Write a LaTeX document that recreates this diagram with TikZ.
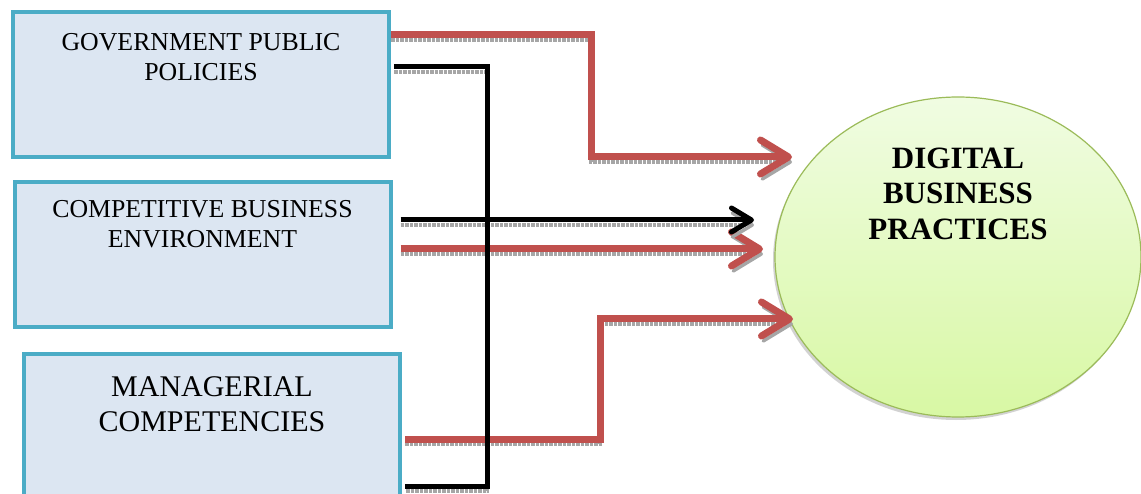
\documentclass[tikz,border=0pt]{standalone}
\usepackage{fontspec}
\setmainfont{Liberation Serif}
\usetikzlibrary{arrows.meta,shapes.geometric,positioning,shadows}
\definecolor{boxblue}{HTML}{4BACC6}
\definecolor{boxfill}{HTML}{DCE6F2}
\definecolor{linkred}{HTML}{C0504D}
\definecolor{ovalgreen}{HTML}{9BBB59}
\definecolor{ovaltop}{HTML}{F0FCE2}
\definecolor{ovalbottom}{HTML}{D8F8A4}

\begin{document}
\begin{tikzpicture}[
    x = 1pt, y = -1pt,
    factor/.style = {
      draw = boxblue,
      fill = boxfill,
      line width = 4pt,
      minimum width = 376pt,
      minimum height = 145pt,
      inner sep = 0pt
    },
    factortext/.style = {
      align = center,
      inner sep = 0pt,
      font = \fontsize{25.8}{30}\selectfont
    },
    lineshadow/.style = {
      preaction = {draw = gray!70, densely dotted, line width = 3.5pt,
        transform canvas = {yshift = -5pt}}
    },
    redlink/.style = {
      lineshadow,
      draw = linkred,
      line width = 7pt,
      -{Straight Barb[length = 28pt, width = 34pt, round]}
    },
    blacklink/.style = {
      lineshadow,
      draw = black,
      line width = 5pt
    }
  ]

  \useasboundingbox (0,0) rectangle (1141,494);
  \clip (0,0) rectangle (1141,494);

  % factors
  \node[factor] (gov) at (201,84.5) {};
  \node[factor] (comp) at (202.5,255) {};
  \node[factor] (mgr) at (212,426.5) {};

  \node[factortext, below = 23pt of gov.north] (govtext) {GOVERNMENT PUBLIC\\POLICIES};
  \node[factortext, below = 20pt of comp.north] (comptext) {COMPETITIVE BUSINESS\\ENVIRONMENT};
  \node[factortext, font = \fontsize{30}{35}\selectfont, below = 24pt of mgr.north]
    (mgrtext) {MANAGERIAL\\COMPETENCIES};

  % outcome
  \node[ellipse, draw = ovalgreen, line width = 1.2pt,
    top color = ovaltop, bottom color = ovalbottom,
    minimum width = 366pt, minimum height = 320pt,
    drop shadow = {shadow xshift = -2pt, shadow yshift = -3pt, fill = gray!70}]
    (dbp) at (958,257) {};
  \node[align = center, inner sep = 0pt, font = \fontsize{31}{35.5}\selectfont\bfseries,
    below = 51pt of dbp.north] (dbptext) {DIGITAL\\BUSINESS\\PRACTICES};

  \coordinate (t1) at (792,157);
  \coordinate (t2) at (763,249);
  \coordinate (t3) at (793,319);
  \coordinate (tb) at (754,220);

  \draw[redlink] (gov.east |- 0,35) -- (591,35) |- (t1);
  \draw[redlink] ([xshift = 8pt]comp.east |- 0,249) -- (t2);
  \draw[redlink] ([xshift = 3pt]mgr.east |- 0,439) -- (600,439) |- (t3);
  \draw[blacklink, -{Straight Barb[length = 20pt, width = 24pt, round]}]
    ([xshift = 8pt]comp.east |- 0,220) -- (tb);
  \draw[blacklink] ([xshift = 3pt]gov.east |- 0,67) -| (487,486) -- ([xshift = 3pt]mgr.east |- 0,486);

\end{tikzpicture}
\end{document}
